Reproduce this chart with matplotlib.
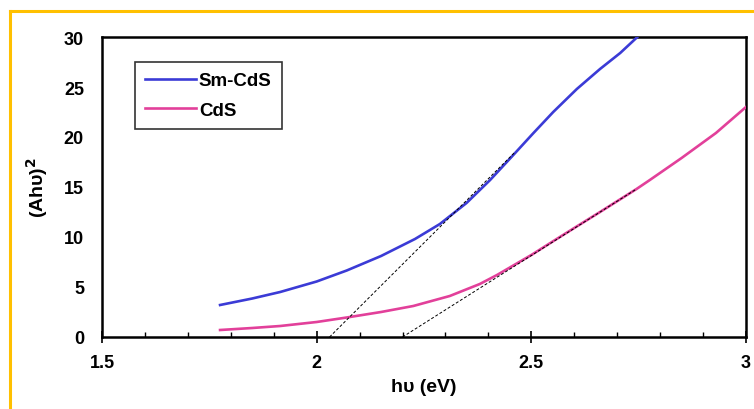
import numpy as np
import matplotlib
matplotlib.use('Agg')
import matplotlib.pyplot as plt
from matplotlib.lines import Line2D
from matplotlib.ticker import MultipleLocator

# values
sm_x = [1.775, 1.85, 1.915, 2.0, 2.07, 2.15, 2.229, 2.287, 2.349, 2.404,
        2.458, 2.505, 2.551, 2.606, 2.66, 2.707, 2.747]
sm_y = [3.2, 3.85, 4.5, 5.55, 6.65, 8.1, 9.8, 11.3, 13.4, 15.7,
        18.2, 20.4, 22.5, 24.8, 26.8, 28.4, 30.0]

cds_x = [1.775, 1.85, 1.915, 2.0, 2.07, 2.15, 2.225, 2.31, 2.38, 2.42,
         2.45, 2.5, 2.559, 2.6, 2.66, 2.745, 2.776, 2.85, 2.93, 3.0]
cds_y = [0.7, 0.9, 1.1, 1.5, 1.95, 2.5, 3.1, 4.1, 5.3, 6.2,
         6.95, 8.2, 9.8, 10.9, 12.5, 14.8, 15.7, 17.9, 20.4, 23.0]

# tangent (Tauc extrapolation) lines
tan_sm_x = [2.03, 2.46]
tan_sm_y = [0, 18.4]
tan_cds_x = [2.2, 2.745]
tan_cds_y = [0, 14.8]

x_ticks = [1.5, 2.0, 2.5, 3.0]
x_labels = ['1.5', '2', '2.5', '3']
y_ticks = [0, 5, 10, 15, 20, 25, 30]

plt.rcParams.update({
    'font.family': 'Liberation Sans',
    'font.weight': 'bold',
    'font.size': 13,
})

fig = plt.figure(figsize=(7.54, 4.10), dpi=100)
ax = fig.add_axes([102/754, 72/410, 644/754, 300/410])

ax.plot(sm_x, sm_y, color='#3b3bd6', lw=1.9, label='Sm-CdS', zorder=3)
ax.plot(cds_x, cds_y, color='#e2409a', lw=1.9, label='CdS', zorder=3)
ax.plot(tan_sm_x, tan_sm_y, color='black', lw=0.7, dashes=(3, 2), zorder=4)
ax.plot(tan_cds_x, tan_cds_y, color='black', lw=0.7, dashes=(3, 2), zorder=4)

ax.set_xlim(1.5, 3.0)
ax.set_ylim(0, 30)
ax.set_xticks(x_ticks)
ax.set_xticklabels(x_labels)
ax.set_yticks(y_ticks)
ax.xaxis.set_minor_locator(MultipleLocator(0.1))
ax.tick_params(axis='x', which='major', direction='inout', length=8, width=1.2, pad=8)
ax.tick_params(axis='x', which='minor', direction='in', length=3.5, width=1.0)
ax.tick_params(axis='y', length=0, pad=13)
for s in ax.spines.values():
    s.set_linewidth(1.8)

ax.set_xlabel('hυ (eV)', fontsize=14, fontweight='bold', labelpad=5)
ax.set_ylabel('(Ahυ)$^\\mathbf{2}$', fontsize=14, fontweight='bold', labelpad=10)

leg = ax.legend(loc='upper left', bbox_to_anchor=(33/644, 275/300), frameon=True,
                fancybox=False, edgecolor='black', handlelength=2.7,
                handletextpad=0.15, borderpad=0.55, labelspacing=0.65,
                borderaxespad=0, prop={'weight': 'bold', 'size': 13.5})
leg.get_frame().set_linewidth(1.2)

# gold frame around the figure
gold = '#ffc000'
fig.add_artist(Line2D([10/754, 1.0], [1 - 12/410, 1 - 12/410], color=gold, lw=2.2))
fig.add_artist(Line2D([10/754, 10/754], [0, 1 - 12/410], color=gold, lw=2.2))

plt.savefig('out.png', dpi=100)
